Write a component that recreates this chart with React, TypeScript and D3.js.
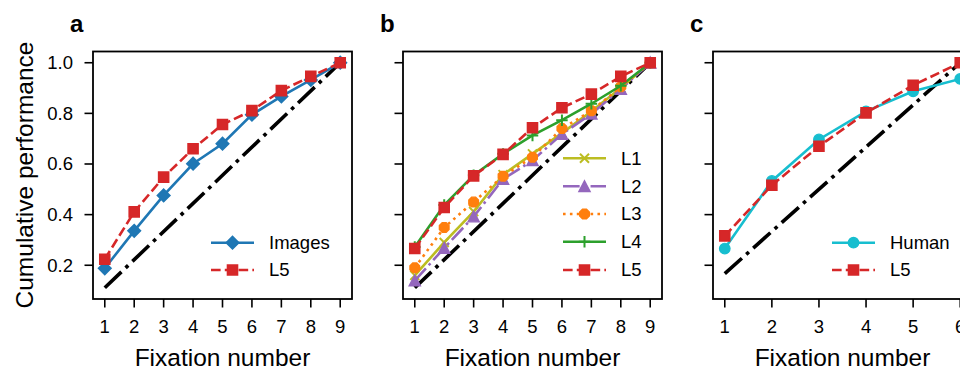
import React from 'react'
import * as d3 from 'd3'

// fixation indices
const fix9 = [1, 2, 3, 4, 5, 6, 7, 8, 9]
const fix6 = [1, 2, 3, 4, 5, 6]

// panel a
const imagesA = [0.188, 0.336, 0.476, 0.601, 0.68, 0.795, 0.867, 0.932, 1.0]
const l5A = [0.224, 0.411, 0.548, 0.66, 0.756, 0.811, 0.89, 0.946, 1.0]

// panel b
const l1B = [0.16, 0.29, 0.412, 0.558, 0.64, 0.722, 0.808, 0.9, 1.0]
const l2B = [0.139, 0.268, 0.392, 0.54, 0.614, 0.718, 0.798, 0.896, 1.0]
const l3B = [0.19, 0.349, 0.45, 0.552, 0.627, 0.74, 0.81, 0.905, 1.0]
const l4B = [0.272, 0.438, 0.556, 0.64, 0.713, 0.773, 0.838, 0.909, 1.0]
const l5B = [0.266, 0.428, 0.553, 0.638, 0.743, 0.822, 0.876, 0.946, 1.0]

// panel c
const humanC = [0.266, 0.533, 0.697, 0.808, 0.887, 0.936]
const l5C = [0.316, 0.516, 0.67, 0.802, 0.911, 1.0]

// chance diagonal end points (first fixation, last fixation)
const chance9X = [1, 9]
const chance9Y = [0.111, 1.0]
const chance6X = [1, 6]
const chance6Y = [0.167, 1.0]

const yTicks = [0.2, 0.4, 0.6, 0.8, 1.0]

const FONT = '"Liberation Sans", Arial, Helvetica, sans-serif'
const top = 51.5
const bottom = 299
const panelW = 259
const lw = 2.6

const dashes: Record<string, string | undefined> = {
  solid: undefined,
  dashed: `${3.7 * lw} ${1.6 * lw}`,
  dashdot: `${6.4 * lw} ${1.6 * lw} ${1 * lw} ${1.6 * lw}`,
  dotted: `${1 * lw} ${1.65 * lw}`,
}

const y = d3.scaleLinear().domain([0.0667, 1.0444]).range([bottom, top])

type Series = { name: string; xs: number[]; ys: number[]; color: string; dash: string; marker: string }

// marker glyphs, centred on 0,0
function markerShape(kind: string, color: string) {
  if (kind === 'square') {
    return <path d={d3.symbol(d3.symbolSquare, 100)()!} fill={color} stroke={color} strokeWidth={1.6} />
  }
  if (kind === 'diamond') {
    return (
      <path d={d3.symbol(d3.symbolSquare, 78)()!} transform="rotate(45)" fill={color} stroke={color} strokeWidth={1.6} />
    )
  }
  if (kind === 'circle') {
    return <circle r={5.3} fill={color} stroke={color} strokeWidth={1.2} />
  }
  if (kind === 'triangle') {
    return <path d="M0,-5.6L5.6,5.2L-5.6,5.2Z" fill={color} stroke={color} strokeWidth={1.4} />
  }
  if (kind === 'octagon') {
    const pts = d3.range(8).map((i) => {
      const a = (Math.PI / 8) * (2 * i + 1)
      return [5.2 * Math.cos(a), 5.2 * Math.sin(a)] as [number, number]
    })
    return <path d={d3.line()(pts) + 'Z'} fill={color} stroke={color} strokeWidth={1.4} />
  }
  if (kind === 'plus') {
    return <path d={d3.symbol(d3.symbolPlus, 45)()!} fill="none" stroke={color} strokeWidth={2} />
  }
  if (kind === 'x') {
    return <path d={d3.symbol(d3.symbolTimes, 55)()!} fill="none" stroke={color} strokeWidth={2} />
  }
  return null
}

const Panel = ({
  x0,
  xDomain,
  xs,
  series,
  chanceX,
  chanceY,
  letter,
  showYLabels,
  legendX,
  legendY,
}: {
  x0: number
  xDomain: [number, number]
  xs: number[]
  series: Series[]
  chanceX: number[]
  chanceY: number[]
  letter: string
  showYLabels: boolean
  legendX: number
  legendY: number[]
}) => {
  const x = d3.scaleLinear().domain(xDomain).range([x0, x0 + panelW])
  const line = d3
    .line<[number, number]>()
    .x((d) => x(d[0]))
    .y((d) => y(d[1]))
  const chance = chanceX.map((v, i) => [v, chanceY[i]] as [number, number])

  return (
    <g>
      <text x={x0 - 23} y={32} fontFamily={FONT} fontWeight="bold" fontSize={24}>
        {letter}
      </text>

      {/* chance diagonal */}
      <path d={line(chance)!} fill="none" stroke="#000" strokeWidth={3.6} strokeDasharray="23 5.8 3.6 5.8" />

      {series.map((s) => {
        const pts = s.xs.map((v, i) => [v, s.ys[i]] as [number, number])
        return (
          <g key={s.name}>
            <path d={line(pts)!} fill="none" stroke={s.color} strokeWidth={lw} strokeDasharray={dashes[s.dash]} />
            {pts.map((p, i) => (
              <g key={i} transform={`translate(${x(p[0])},${y(p[1])})`}>
                {markerShape(s.marker, s.color)}
              </g>
            ))}
          </g>
        )
      })}

      {/* frame */}
      <rect x={x0} y={top} width={panelW} height={bottom - top} fill="none" stroke="#000" strokeWidth={1.8} />

      {/* y ticks */}
      {yTicks.map((t) => (
        <g key={t}>
          <line x1={x0 - 8.5} x2={x0} y1={y(t)} y2={y(t)} stroke="#000" strokeWidth={1.6} />
          {showYLabels && (
            <text x={x0 - 20} y={y(t)} dy="0.35em" textAnchor="end" fontFamily={FONT} fontSize={18.5}>
              {d3.format('.1f')(t)}
            </text>
          )}
        </g>
      ))}

      {/* x ticks */}
      {xs.map((t) => (
        <g key={t}>
          <line x1={x(t)} x2={x(t)} y1={bottom} y2={bottom + 8.5} stroke="#000" strokeWidth={1.6} />
          <text x={x(t)} y={333} textAnchor="middle" fontFamily={FONT} fontSize={18.5}>
            {t}
          </text>
        </g>
      ))}

      <text x={x0 + panelW / 2} y={365.5} textAnchor="middle" fontFamily={FONT} fontSize={24.5}>
        Fixation number
      </text>

      {/* legend */}
      {series.map((s, i) => (
        <g key={s.name} transform={`translate(${legendX},${legendY[i]})`}>
          <line x1={0} x2={43} y1={0} y2={0} stroke={s.color} strokeWidth={lw} strokeDasharray={dashes[s.dash]} />
          <g transform="translate(21.5,0)">{markerShape(s.marker, s.color)}</g>
          <text x={58} y={0} dy="0.35em" fontFamily={FONT} fontSize={18.5}>
            {s.name}
          </text>
        </g>
      ))}
    </g>
  )
}

const App = () => {
  const seriesA: Series[] = [
    { name: 'Images', xs: fix9, ys: imagesA, color: '#1f77b4', dash: 'solid', marker: 'diamond' },
    { name: 'L5', xs: fix9, ys: l5A, color: '#d62728', dash: 'dashed', marker: 'square' },
  ]
  const seriesB: Series[] = [
    { name: 'L1', xs: fix9, ys: l1B, color: '#bcbd22', dash: 'solid', marker: 'x' },
    { name: 'L2', xs: fix9, ys: l2B, color: '#9467bd', dash: 'dashdot', marker: 'triangle' },
    { name: 'L3', xs: fix9, ys: l3B, color: '#ff7f0e', dash: 'dotted', marker: 'octagon' },
    { name: 'L4', xs: fix9, ys: l4B, color: '#2ca02c', dash: 'solid', marker: 'plus' },
    { name: 'L5', xs: fix9, ys: l5B, color: '#d62728', dash: 'dashed', marker: 'square' },
  ]
  const seriesC: Series[] = [
    { name: 'Human', xs: fix6, ys: humanC, color: '#17becf', dash: 'solid', marker: 'circle' },
    { name: 'L5', xs: fix6, ys: l5C, color: '#d62728', dash: 'dashed', marker: 'square' },
  ]

  return (
    <svg
      width={960}
      height={371}
      style={{ position: 'absolute', left: 0, top: 0, background: '#fff' }}
    >
      <text
        transform="translate(33,175) rotate(-90)"
        textAnchor="middle"
        fontFamily={FONT}
        fontSize={24.5}
      >
        Cumulative performance
      </text>
      <Panel
        x0={93}
        xDomain={[0.6, 9.4]}
        xs={fix9}
        series={seriesA}
        chanceX={chance9X}
        chanceY={chance9Y}
        letter="a"
        showYLabels={true}
        legendX={211}
        legendY={[242.7, 270]}
      />
      <Panel
        x0={403}
        xDomain={[0.6, 9.4]}
        xs={fix9}
        series={seriesB}
        chanceX={chance9X}
        chanceY={chance9Y}
        letter="b"
        showYLabels={false}
        legendX={563}
        legendY={[158.3, 186.3, 214, 241.7, 270]}
      />
      <Panel
        x0={713}
        xDomain={[0.75, 6.25]}
        xs={fix6}
        series={seriesC}
        chanceX={chance6X}
        chanceY={chance6Y}
        letter="c"
        showYLabels={false}
        legendX={832}
        legendY={[242.7, 270]}
      />
    </svg>
  )
}

export default App
